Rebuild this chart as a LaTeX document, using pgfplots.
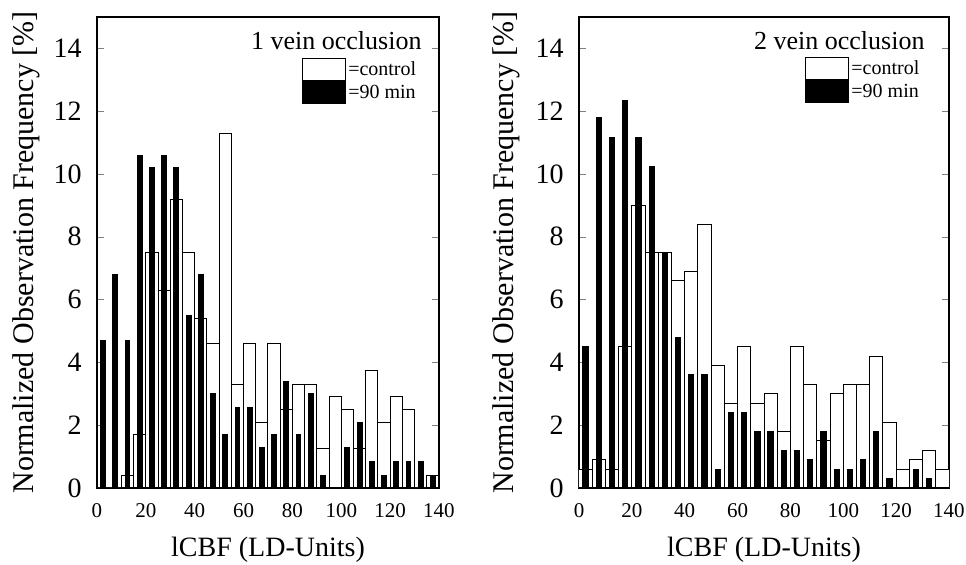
\documentclass[border=0pt]{standalone}
\usepackage{fontspec}
\setmainfont{Liberation Serif}
\usepackage{pgfplots}
\usepackage{pgfplotstable}
\pgfplotsset{compat=1.18}

% bin centre, control, 90 min  (bins of 5 LD-units)
\pgfplotstableread{
x     ctrl   late
2.5   0      4.7
7.5   0      6.8
12.5  0.4    4.7
17.5  1.7    10.6
22.5  7.5    10.2
27.5  6.3    10.6
32.5  9.2    10.2
37.5  7.5    5.5
42.5  5.4    6.8
47.5  4.6    3.0
52.5  11.3   1.7
57.5  3.3    2.55
62.5  4.6    2.55
67.5  2.1    1.3
72.5  4.6    1.7
77.5  2.5    3.4
82.5  3.3    1.7
87.5  3.3    3.0
92.5  1.25   0.4
97.5  2.9    0
102.5 2.5    1.3
107.5 1.25   2.1
112.5 3.75   0.85
117.5 2.1    0.4
122.5 2.9    0.85
127.5 2.5    0.85
132.5 0      0.85
137.5 0.4    0.4
}\oneveins

\pgfplotstableread{
x     ctrl   late
2.5   0.6    4.5
7.5   0.9    11.8
12.5  0.6    11.15
17.5  4.5    12.35
22.5  9.0    11.15
27.5  7.5    10.25
32.5  7.5    7.5
37.5  6.6    4.8
42.5  6.9    3.6
47.5  8.4    3.6
52.5  3.9    0.6
57.5  2.7    2.4
62.5  4.5    2.4
67.5  2.7    1.8
72.5  3.0    1.8
77.5  1.8    1.2
82.5  4.5    1.2
87.5  3.3    0.9
92.5  1.5    1.8
97.5  3.0    0.6
102.5 3.3    0.6
107.5 3.3    0.9
112.5 4.2    1.8
117.5 2.1    0.3
122.5 0.6    0
127.5 0.9    0.6
132.5 1.2    0.3
137.5 0.6    0
}\twoveins

\pgfplotsset{
  hist/.style={
    scale only axis,
    height=235.5pt,
    xmin=0, xmax=140, ymin=0, ymax=15,
    xtick={0,20,...,140}, ytick={0,2,...,14},
    tick align=inside,
    major tick length=3.5pt,
    xtick style={draw=none},
    axis line style={line width=0.7pt},
    /pgf/number format/assume math mode=true,
    xticklabel style={font=\fontsize{10.5}{12}\selectfont, inner sep=0pt, yshift=-7.5pt},
    yticklabel style={font=\fontsize{14}{16}\selectfont, inner sep=0pt, xshift=-7.5pt},
    xlabel={lCBF (LD-Units)},
    ylabel={Normalized Observation Frequency [\%]},
    every axis x label/.style={at={(rel axis cs:0.5,-0.1465)}, anchor=base,
      font=\fontsize{14}{16}\selectfont},
    legend image code/.code={\draw[#1] (0pt,-5.5pt) rectangle (21.5pt,5.5pt);},
    legend cell align=left,
    legend style={anchor=north west, draw=none, fill=none, inner sep=0pt,
      row sep=0pt, column sep=1pt, nodes={inner sep=0pt},
      font=\fontsize{10}{11}\selectfont},
  },
  ctrlbar/.style={ybar, bar shift=0pt, bar width=5, fill=white, draw=black, line width=0.5pt},
  latebar/.style={ybar, bar shift=0pt, bar width=2, fill=black, draw=black, line width=0.5pt},
}

\begin{document}
\begin{tikzpicture}
\path[use as bounding box] (0,0) rectangle (483pt,282.5pt);

\begin{axis}[hist, at={(48.5pt,38.5pt)}, anchor=south west, width=171pt,
  every axis y label/.style={at={(rel axis cs:-0.187,0.5)}, rotate=90, anchor=base,
    font=\fontsize{15}{17}\selectfont},
  legend style={at={(rel axis cs:0.599,0.913)}}]
  \addplot[ctrlbar] table[x=x, y=ctrl] {\oneveins};
  \addlegendentry{=control}
  \addplot[latebar] table[x=x, y=late] {\oneveins};
  \addlegendentry{=90 min}
  \node[anchor=base east, inner sep=0pt, font=\fontsize{13}{15}\selectfont]
    at (rel axis cs:0.95,0.93) {1 vein occlusion};
\end{axis}

\begin{axis}[hist, at={(289.5pt,38.5pt)}, anchor=south west, width=185pt,
  every axis y label/.style={at={(rel axis cs:-0.178,0.5)}, rotate=90, anchor=base,
    font=\fontsize{15}{17}\selectfont},
  legend style={at={(rel axis cs:0.611,0.915)}}]
  \addplot[ctrlbar] table[x=x, y=ctrl] {\twoveins};
  \addlegendentry{=control}
  \addplot[latebar] table[x=x, y=late] {\twoveins};
  \addlegendentry{=90 min}
  \node[anchor=base east, inner sep=0pt, font=\fontsize{13}{15}\selectfont]
    at (rel axis cs:0.935,0.93) {2 vein occlusion};
\end{axis}
\end{tikzpicture}
\end{document}
